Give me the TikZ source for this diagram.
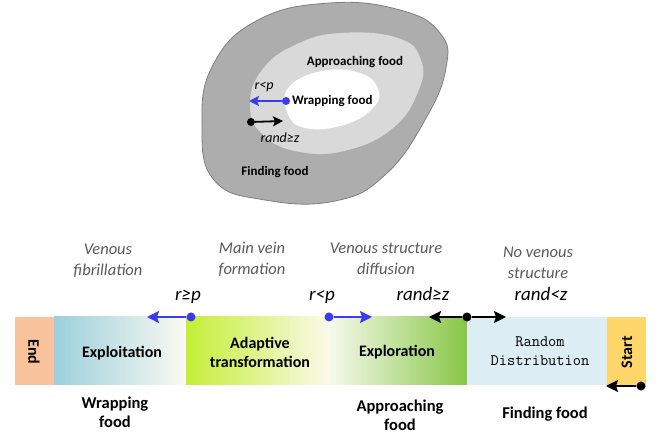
\documentclass[tikz,border=0pt]{standalone}
\usepackage{fontspec}
\setmainfont{Carlito}
\usetikzlibrary{arrows.meta}
\definecolor{outerc}{HTML}{ADADAD}
\definecolor{outerl}{HTML}{7F7F7F}
\definecolor{midc}{HTML}{D9D9D9}
\definecolor{endc}{HTML}{F8C39B}
\definecolor{startc}{HTML}{FED66A}
\definecolor{randc}{HTML}{DCEDF3}
\definecolor{expla}{HTML}{9CCFDC}
\definecolor{explb}{HTML}{FBFAF2}
\definecolor{adapa}{HTML}{C4EE35}
\definecolor{adapb}{HTML}{FBFAEB}
\definecolor{explra}{HTML}{F6F9EC}
\definecolor{explrb}{HTML}{88C646}
\definecolor{graytxt}{HTML}{595959}
\definecolor{bluec}{HTML}{3A3AF5}
\begin{document}
\begin{tikzpicture}[x=1pt,y=-1pt,
  bar/.style={rectangle,inner sep=0pt,minimum height=68pt,draw=none},
  boxtxt/.style={font=\bfseries\fontsize{16}{19}\selectfont,align=center,inner sep=0pt},
  phase/.style={font=\itshape\fontsize{16.5}{21}\selectfont,text=graytxt,align=center,inner sep=0pt},
  cond/.style={font=\itshape\fontsize{19}{20}\selectfont,inner sep=0pt},
  under/.style={font=\bfseries\fontsize{16.5}{19}\selectfont,align=center,inner sep=0pt},
  toptxt/.style={font=\bfseries\fontsize{13}{15}\selectfont,inner sep=0pt},
  topcond/.style={font=\itshape\fontsize{14}{15}\selectfont,inner sep=0pt},
  bdot/.style={circle,fill=bluec,inner sep=0pt,minimum size=9pt},
  kdot/.style={circle,fill=black,inner sep=0pt,minimum size=9pt},
  sdot/.style={circle,fill=bluec,inner sep=0pt,minimum size=8pt},
  skdot/.style={circle,fill=black,inner sep=0pt,minimum size=8pt},
  barrow/.style={draw=bluec,line width=2pt,-{Stealth[width=12pt,length=12pt,inset=2pt]}},
  karrow/.style={draw=black,line width=2pt,-{Stealth[width=12pt,length=12pt,inset=2pt]}},
  sbarrow/.style={draw=bluec,line width=1.8pt,-{Stealth[width=10pt,length=10pt,inset=2pt]}},
  skarrow/.style={draw=black,line width=1.8pt,-{Stealth[width=10pt,length=10pt,inset=2pt]}}
]
\useasboundingbox (0,0) rectangle (662,435);
% ---- top blobs
\draw[fill=outerc,draw=outerl,line width=0.8pt] plot[smooth cycle,tension=0.75] coordinates
 {(330,3) (400,10) (440,33) (446,68) (425,120) (385,175) (335,201) (265,200) (214,180) (202,125) (213,65) (258,20)};
\fill[midc] plot[smooth cycle,tension=0.75] coordinates
 {(340,33) (398,38) (421,60) (418,92) (393,128) (348,150) (300,152) (263,135) (250,105) (262,70) (295,45)};
\fill[white] plot[smooth cycle,tension=0.75] coordinates
 {(322,71) (360,73) (378,89) (373,108) (344,125) (305,128) (287,112) (289,87)};
\node[toptxt] (tapp) at (355,62) {Approaching food};
\node[toptxt,anchor=west] (twrap) at (292,101) {Wrapping food};
\node[toptxt] (tfind) at (275,172) {Finding food};
\node[topcond] (trp) at (264,87) {r<p};
\node[topcond] (trz) at (280,138) {rand≥z};
\node[sdot] (tbd) at (286,101) {};
\coordinate (tbt) at (249,101);
\draw[sbarrow] (tbd) -- (tbt);
\node[skdot] (tkd) at (251,122) {};
\coordinate (tkt) at (283,121);
\draw[skarrow] (tkd) -- (tkt);
% ---- bar
\node[bar,minimum width=39pt,fill=endc] (end) at (34.5,351) {};
\node[bar,minimum width=132pt,left color=expla,right color=explb] (exploit) at (120,351) {};
\node[bar,minimum width=144pt,left color=adapa,right color=adapb] (adapt) at (258,351) {};
\node[bar,minimum width=137pt,left color=explra,right color=explrb] (explore) at (398.5,351) {};
\node[bar,minimum width=140pt,fill=randc] (rand) at (537,351) {};
\node[bar,minimum width=39pt,minimum height=70pt,fill=startc] (start) at (626.5,352) {};
\node[boxtxt,rotate=-90] (endt) at (34,352) {End};
\node[boxtxt,rotate=90] (startt) at (627,352) {Start};
\node[boxtxt] (exploitt) at (122,353) {Exploitation};
\node[boxtxt] (adaptt) at (260,352) {Adaptive\\transformation};
\node[boxtxt] (exploret) at (397,352) {Exploration};
\node[font=\ttfamily\fontsize{16}{19}\selectfont,align=center,inner sep=0pt] (randt) at (540,351) {Random\\Distribution};
% ---- phase labels
\node[phase] (p1) at (108,261) {Venous\\fibrillation};
\node[phase] (p2) at (252,259) {Main vein\\formation};
\node[phase] (p3) at (386,259) {Venous structure\\diffusion};
\node[phase] (p4) at (538,263) {No venous\\structure};
% ---- conditions
\node[cond] (c1) at (188,297) {r≥p};
\node[cond] (c2) at (322,297) {r<p};
\node[cond] (c3) at (423,294) {rand≥z};
\node[cond] (c4) at (541,294) {rand<z};
% ---- arrows
\node[bdot] (d1) at (191,317) {};
\coordinate (a1) at (147,317);
\draw[barrow] (d1) -- (a1);
\node[bdot] (d2) at (329,317) {};
\coordinate (a2) at (372,317);
\draw[barrow] (d2) -- (a2);
\node[kdot] (d3) at (467,317) {};
\coordinate (a3l) at (429,317);
\coordinate (a3r) at (506,317);
\draw[karrow] (d3) -- (a3l);
\draw[karrow] (d3) -- (a3r);
\node[kdot] (d4) at (641,386) {};
\coordinate (a4) at (606,386);
\draw[karrow] (d4) -- (a4);
% ---- under labels
\node[under] (u1) at (115,412) {Wrapping\\food};
\node[under] (u2) at (400,415) {Approaching\\food};
\node[under] (u3) at (545,414) {Finding food};
\end{tikzpicture}
\end{document}
